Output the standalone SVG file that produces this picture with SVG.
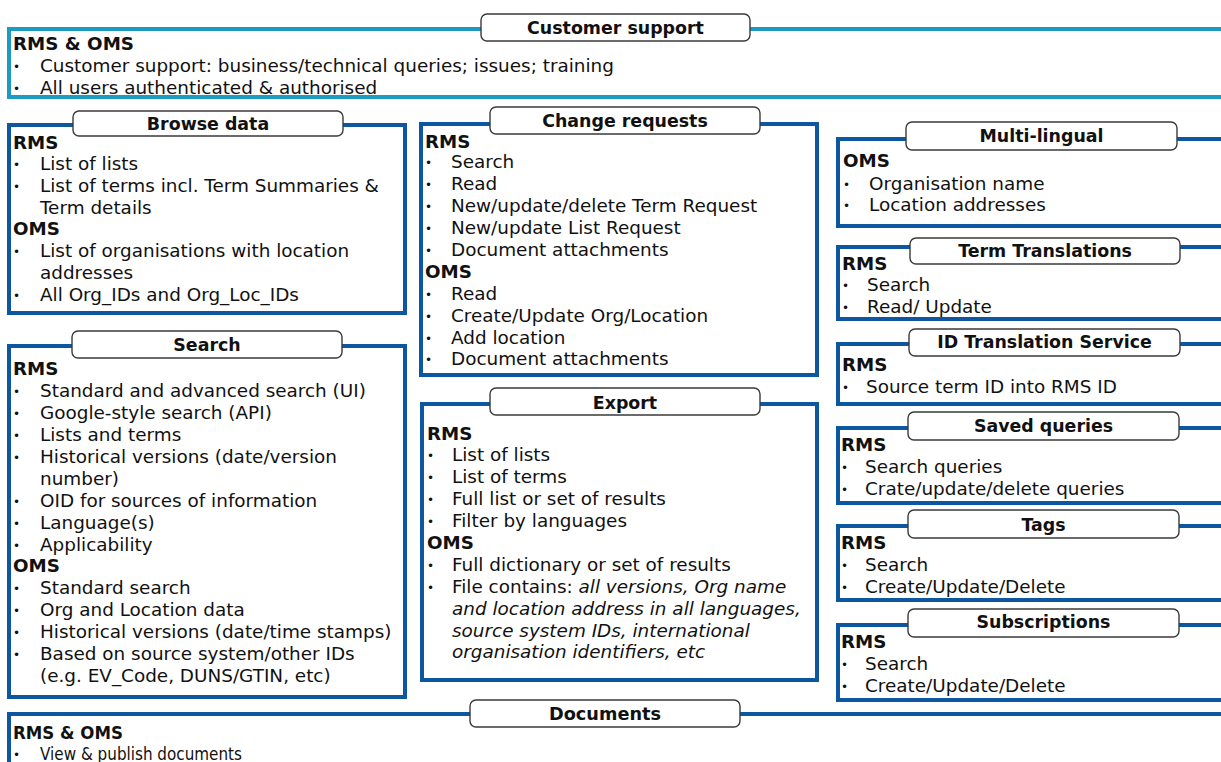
<svg xmlns="http://www.w3.org/2000/svg" width="1221" height="762" viewBox="0 0 1221 762">
<style>
.box{fill:#fff;stroke:#0d57a0;stroke-width:4}
.teal{fill:#fff;stroke:#1a9bbf;stroke-width:4}
.pill{fill:#fff;stroke:#3a3a3a;stroke-width:1.4}
text{font-family:"DejaVu Sans","Liberation Sans",sans-serif;fill:#111}
.lab{font-size:17.4px;font-weight:bold;text-anchor:middle}
.h{font-size:18.3px;font-weight:bold}
.t{font-size:18.4px}
.b{font-size:12px}
.i{font-style:italic}
</style>
<rect width="1221" height="762" fill="#fff"/>
<g id="connectors"/>

<g id="customer-support">
<rect class="teal" x="9" y="29" width="1240" height="68"/>
<rect class="pill" x="481" y="14" width="269" height="27" rx="6"/>
<text class="lab" x="615.5" y="34">Customer support</text>
<text class="h" x="13" y="50">RMS &amp; OMS</text>
<text class="b" x="13" y="71">•</text><text class="t" x="40" y="72">Customer support: business/technical queries; issues; training</text>
<text class="b" x="13" y="93">•</text><text class="t" x="40" y="94">All users authenticated &amp; authorised</text>
</g>

<g id="browse-data">
<rect class="box" x="9" y="125" width="396" height="188"/>
<rect class="pill" x="73" y="111" width="270" height="25" rx="6"/>
<text class="lab" x="208" y="130">Browse data</text>
<text class="h" x="13" y="149">RMS</text>
<text class="b" x="13" y="169">•</text><text class="t" x="40" y="170">List of lists</text>
<text class="b" x="13" y="191">•</text><text class="t" x="40" y="192">List of terms incl. Term Summaries &amp;</text>
<text class="t" x="40" y="214">Term details</text>
<text class="h" x="13" y="235">OMS</text>
<text class="b" x="13" y="256">•</text><text class="t" x="40" y="257">List of organisations with location</text>
<text class="t" x="40" y="279">addresses</text>
<text class="b" x="13" y="300">•</text><text class="t" x="40" y="301">All Org_IDs and Org_Loc_IDs</text>
</g>

<g id="search">
<rect class="box" x="9" y="346" width="396" height="351"/>
<rect class="pill" x="72" y="331" width="270" height="27" rx="6"/>
<text class="lab" x="207" y="351">Search</text>
<text class="h" x="13" y="375">RMS</text>
<text class="b" x="13" y="396">•</text><text class="t" x="40" y="397">Standard and advanced search (UI)</text>
<text class="b" x="13" y="418">•</text><text class="t" x="40" y="419">Google-style search (API)</text>
<text class="b" x="13" y="440">•</text><text class="t" x="40" y="441">Lists and terms</text>
<text class="b" x="13" y="462">•</text><text class="t" x="40" y="463">Historical versions (date/version</text>
<text class="t" x="40" y="485">number)</text>
<text class="b" x="13" y="506">•</text><text class="t" x="40" y="507">OID for sources of information</text>
<text class="b" x="13" y="528">•</text><text class="t" x="40" y="529">Language(s)</text>
<text class="b" x="13" y="550">•</text><text class="t" x="40" y="551">Applicability</text>
<text class="h" x="13" y="572">OMS</text>
<text class="b" x="13" y="593">•</text><text class="t" x="40" y="594">Standard search</text>
<text class="b" x="13" y="615">•</text><text class="t" x="40" y="616">Org and Location data</text>
<text class="b" x="13" y="637">•</text><text class="t" x="40" y="638">Historical versions (date/time stamps)</text>
<text class="b" x="13" y="659">•</text><text class="t" x="40" y="660">Based on source system/other IDs</text>
<text class="t" x="40" y="682">(e.g. EV_Code, DUNS/GTIN, etc)</text>
</g>

<g id="change-requests">
<rect class="box" x="421" y="124" width="396" height="251"/>
<rect class="pill" x="490" y="107" width="270" height="27" rx="6"/>
<text class="lab" x="625" y="127">Change requests</text>
<text class="h" x="425" y="148">RMS</text>
<text class="b" x="425" y="167">•</text><text class="t" x="451" y="168">Search</text>
<text class="b" x="425" y="189">•</text><text class="t" x="451" y="190">Read</text>
<text class="b" x="425" y="211">•</text><text class="t" x="451" y="212">New/update/delete Term Request</text>
<text class="b" x="425" y="233">•</text><text class="t" x="451" y="234">New/update List Request</text>
<text class="b" x="425" y="255">•</text><text class="t" x="451" y="256">Document attachments</text>
<text class="h" x="425" y="278">OMS</text>
<text class="b" x="425" y="299">•</text><text class="t" x="451" y="300">Read</text>
<text class="b" x="425" y="321">•</text><text class="t" x="451" y="322">Create/Update Org/Location</text>
<text class="b" x="425" y="343">•</text><text class="t" x="451" y="344">Add location</text>
<text class="b" x="425" y="364">•</text><text class="t" x="451" y="365">Document attachments</text>
</g>

<g id="export">
<rect class="box" x="422" y="404" width="395" height="276"/>
<rect class="pill" x="490" y="388" width="270" height="27" rx="6"/>
<text class="lab" x="625" y="409">Export</text>
<text class="h" x="427" y="440">RMS</text>
<text class="b" x="427" y="460">•</text><text class="t" x="452" y="461">List of lists</text>
<text class="b" x="427" y="482">•</text><text class="t" x="452" y="483">List of terms</text>
<text class="b" x="427" y="504">•</text><text class="t" x="452" y="505">Full list or set of results</text>
<text class="b" x="427" y="526">•</text><text class="t" x="452" y="527">Filter by languages</text>
<text class="h" x="427" y="549">OMS</text>
<text class="b" x="427" y="570">•</text><text class="t" x="452" y="571">Full dictionary or set of results</text>
<text class="b" x="427" y="592">•</text><text class="t" x="452" y="593">File contains: <tspan class="i">all versions, Org name</tspan></text>
<text class="t i" x="452" y="615">and location address in all languages,</text>
<text class="t i" x="452" y="637">source system IDs, international</text>
<text class="t i" x="452" y="658">organisation identifiers, etc</text>
</g>

<g id="multi-lingual">
<rect class="box" x="838" y="139" width="400" height="87"/>
<rect class="pill" x="906" y="122" width="271" height="28" rx="6"/>
<text class="lab" x="1041.5" y="142">Multi-lingual</text>
<text class="h" x="843" y="167">OMS</text>
<text class="b" x="843" y="189">•</text><text class="t" x="869" y="190">Organisation name</text>
<text class="b" x="843" y="210">•</text><text class="t" x="869" y="211">Location addresses</text>
</g>

<g id="term-translations">
<rect class="box" x="838" y="247" width="400" height="72"/>
<rect class="pill" x="910" y="238" width="270" height="26" rx="6"/>
<text class="lab" x="1045" y="257">Term Translations</text>
<text class="h" x="842" y="270">RMS</text>
<text class="b" x="842" y="290">•</text><text class="t" x="867" y="291">Search</text>
<text class="b" x="842" y="312">•</text><text class="t" x="867" y="313">Read/ Update</text>
</g>

<g id="id-translation">
<rect class="box" x="838" y="344" width="400" height="60"/>
<rect class="pill" x="909" y="329" width="271" height="27" rx="6"/>
<text class="lab" x="1044.5" y="348">ID Translation Service</text>
<text class="h" x="842" y="371">RMS</text>
<text class="b" x="842" y="392">•</text><text class="t" x="866" y="393">Source term ID into RMS ID</text>
</g>

<g id="saved-queries">
<rect class="box" x="838" y="428" width="400" height="75"/>
<rect class="pill" x="908" y="412" width="271" height="28" rx="6"/>
<text class="lab" x="1043.5" y="432">Saved queries</text>
<text class="h" x="841" y="451">RMS</text>
<text class="b" x="841" y="472">•</text><text class="t" x="865" y="473">Search queries</text>
<text class="b" x="841" y="494">•</text><text class="t" x="865" y="495">Crate/update/delete queries</text>
</g>

<g id="tags">
<rect class="box" x="838" y="526" width="400" height="74"/>
<rect class="pill" x="908" y="510" width="271" height="28" rx="6"/>
<text class="lab" x="1043.5" y="531">Tags</text>
<text class="h" x="841" y="549">RMS</text>
<text class="b" x="841" y="570">•</text><text class="t" x="865" y="571">Search</text>
<text class="b" x="841" y="592">•</text><text class="t" x="865" y="593">Create/Update/Delete</text>
</g>

<g id="subscriptions">
<rect class="box" x="838" y="625" width="400" height="75"/>
<rect class="pill" x="908" y="609" width="271" height="28" rx="6"/>
<text class="lab" x="1043.5" y="628">Subscriptions</text>
<text class="h" x="841" y="648">RMS</text>
<text class="b" x="841" y="669">•</text><text class="t" x="865" y="670">Search</text>
<text class="b" x="841" y="691">•</text><text class="t" x="865" y="692">Create/Update/Delete</text>
</g>

<g id="documents">
<rect class="box" x="9" y="714" width="1240" height="80"/>
<rect class="pill" x="470" y="700" width="270" height="27" rx="6"/>
<text class="lab" x="605" y="720" textLength="112" lengthAdjust="spacingAndGlyphs">Documents</text>
<text class="h" x="13" y="739" textLength="110" lengthAdjust="spacingAndGlyphs">RMS &amp; OMS</text>
<text class="b" x="13" y="759">•</text><text class="t" x="40" y="760" textLength="202" lengthAdjust="spacingAndGlyphs">View  &amp; publish documents</text>
</g>
</svg>
